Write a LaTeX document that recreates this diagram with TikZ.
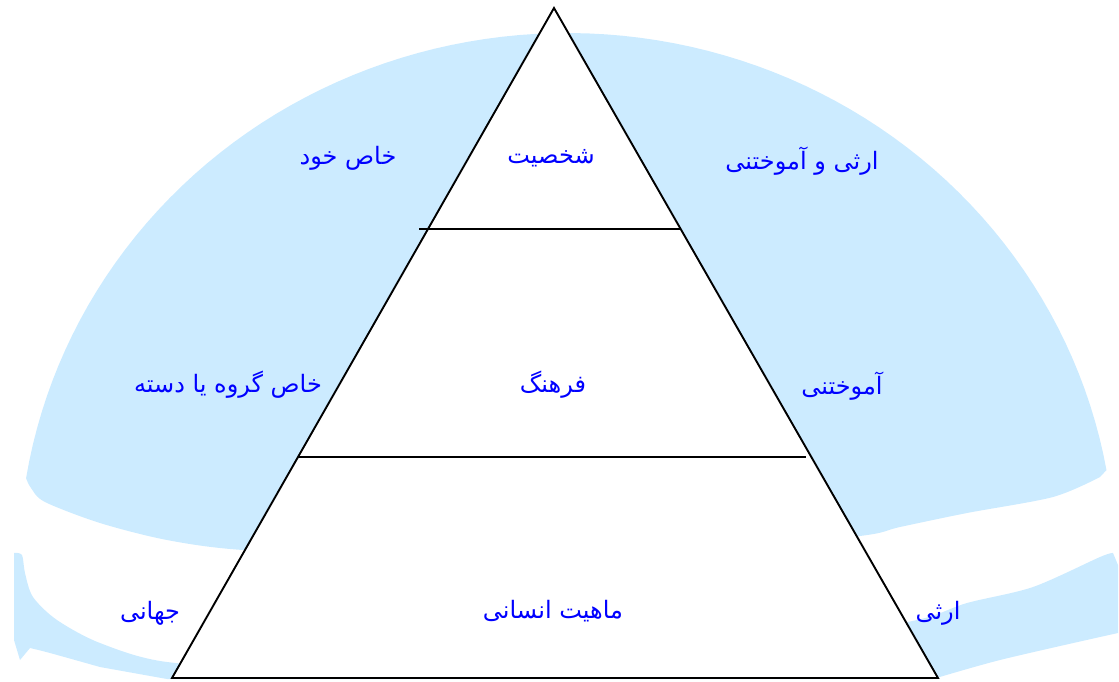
\documentclass[tikz,border=0pt]{standalone}
\usepackage{fontspec}
\newfontfamily\arabicfont[Script=Arabic]{DejaVu Sans}
\TeXXeTstate=1
\definecolor{bandblue}{RGB}{204,235,255}
\definecolor{txtblue}{RGB}{0,0,255}
\begin{document}
\begin{tikzpicture}[x=1pt,y=-1pt,
  lbl/.style={font=\arabicfont\fontsize{24}{27}\selectfont, text=txtblue, inner sep=0pt},
  edge/.style={line width=1.9pt, black}]
\useasboundingbox (0,0) rectangle (1119,681);
% upper blue dome band
\fill[bandblue] plot[domain=9.2:169.9, samples=90] ({567-548*cos(\x)},{563-530*sin(\x)})
  -- plot[smooth] coordinates {(1100,477) (1053,497) (967,513) (900,527) (860,536) (700,552) (560,556) (400,556) (243,550) (167,540) (100,523) (45,502) (31,488) (26,478)} -- cycle;
% lower blue strip
\fill[bandblue] plot[smooth] coordinates {(14,553) (22,555) (25,573) (33,597) (57,620) (100,643) (167,662) (300,668) (600,660) (800,640) (917,620) (967,603) (1033,587) (1100,557) (1113,553)}
  -- (1118,565) -- (1118,633)
  -- plot[smooth] coordinates {(1100,637) (1000,660) (933,679)}
  -- (167,679)
  -- plot[smooth] coordinates {(100,667) (50,653) (30,648)}
  -- (20,660) -- (14,640) -- cycle;
% pyramid
\coordinate (apex) at (554,8);
\coordinate (bl) at (172,678);
\coordinate (br) at (938,678);
\coordinate (l1a) at (419,229);
\coordinate (l1b) at (681,229);
\coordinate (l2a) at (298,457);
\coordinate (l2b) at (806,457);
\filldraw[edge, fill=white, line join=miter] (apex) -- (br) -- (bl) -- cycle;
\draw[edge] (l1a) -- (l1b);
\draw[edge] (l2a) -- (l2b);
% labels
\node[lbl] (t1) at (551,158) {\beginR شخصیت\endR};
\node[lbl] (t2) at (348,158) {\beginR خاص خود\endR};
\node[lbl] (t3) at (802,161) {\beginR ارثی و آموختنی\endR};
\node[lbl] (t4) at (553,385) {\beginR فرهنگ\endR};
\node[lbl] (t5) at (228,385) {\beginR خاص گروه یا دسته\endR};
\node[lbl] (t6) at (842,386) {\beginR آموختنی\endR};
\node[lbl] (t7) at (553,611) {\beginR ماهیت انسانی\endR};
\node[lbl] (t8) at (150,613) {\beginR جهانی\endR};
\node[lbl] (t9) at (938,613) {\beginR ارثی\endR};
\end{tikzpicture}
\end{document}
